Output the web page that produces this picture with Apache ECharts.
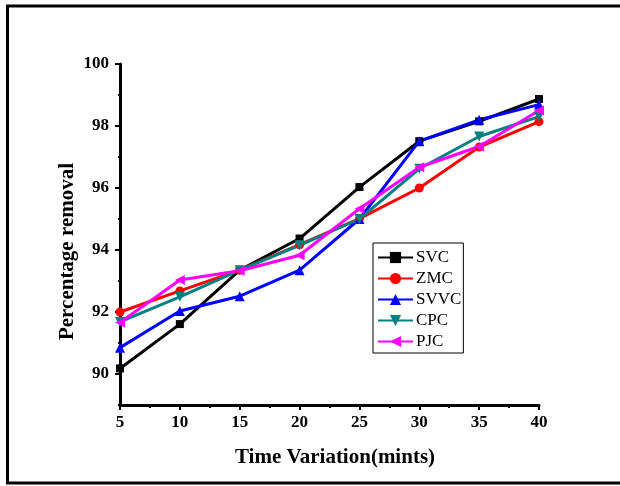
<!DOCTYPE html>
<html>
<head>
<meta charset="utf-8">
<script src="https://cdn.jsdelivr.net/npm/echarts@6/dist/echarts.min.js"></script>
<style>
html,body{margin:0;padding:0;background:#fff;}
#chart{width:620px;height:486px;}
</style>
</head>
<body>
<div id="chart"></div>
<script>
const times = [5, 10, 15, 20, 25, 30, 35, 40];
const SVC  = [90.18, 91.61, 93.35, 94.37, 96.03, 97.51, 98.15, 98.87];
const ZMC  = [92.00, 92.68, 93.35, 94.17, 95.01, 96.00, 97.32, 98.14];
const SVVC = [90.85, 92.03, 92.51, 93.35, 95.00, 97.51, 98.20, 98.69];
const CPC  = [91.68, 92.49, 93.35, 94.15, 95.00, 96.62, 97.66, 98.30];
const PJC  = [91.66, 93.03, 93.33, 93.83, 95.33, 96.67, 97.34, 98.50];
const seriesNames = ['SVC', 'ZMC', 'SVVC', 'CPC', 'PJC'];
const yTickLabels = [90, 92, 94, 96, 98, 100];

const font = 'Liberation Serif';
const pair = arr => times.map((t, i) => [t, arr[i]]);

function mk(name, data, color, symbol, rot, size) {
  return {
    name: name, type: 'line', data: pair(data),
    xAxisIndex: 0, yAxisIndex: 0,
    symbol: symbol, symbolRotate: rot, symbolSize: size,
    lineStyle: {color: color, width: 3},
    itemStyle: {color: color},
    emphasis: {disabled: true},
    animation: false
  };
}

const chart = echarts.init(document.getElementById('chart'), null, {renderer: 'canvas'});
chart.setOption({
  backgroundColor: '#fff',
  animation: false,
  grid: [
    {left: 120, right: 81, top: 64, bottom: 81},
    {left: 120, right: 81, top: 64, bottom: 112}
  ],
  xAxis: [
    {
      gridIndex: 0, type: 'value', min: 5, max: 40, interval: 5,
      name: 'Time Variation(mints)', nameLocation: 'middle', nameGap: 42,
      nameTextStyle: {fontFamily: font, fontWeight: 'bold', fontSize: 21, color: '#000', padding: [0, 0, 0, 11]},
      axisLine: {lineStyle: {color: '#000', width: 3}},
      axisTick: {show: true, inside: false, length: 5, lineStyle: {color: '#000', width: 2}},
      minorTick: {show: true, splitNumber: 2, length: 3, lineStyle: {color: '#000', width: 2}},
      axisLabel: {fontFamily: font, fontWeight: 'bold', fontSize: 17, color: '#000', margin: 9},
      splitLine: {show: false}
    },
    {gridIndex: 1, type: 'value', min: 5, max: 40, show: false}
  ],
  yAxis: [
    {
      gridIndex: 0, type: 'value', min: 89, max: 100, interval: 1,
      name: 'Percentage removal', nameLocation: 'middle', nameGap: 42,
      nameTextStyle: {fontFamily: font, fontWeight: 'bold', fontSize: 21, color: '#000', padding: [0, 34, 0, 0]},
      nameRotate: 90,
      axisLine: {lineStyle: {color: '#000', width: 3}},
      axisTick: {show: true, inside: false, length: 2, lineStyle: {color: '#000', width: 2}},
      axisLabel: {show: false},
      splitLine: {show: false}
    },
    {
      gridIndex: 1, type: 'value', min: yTickLabels[0], max: yTickLabels[yTickLabels.length - 1], interval: 2,
      axisLine: {show: false},
      axisTick: {show: true, inside: false, length: 5, lineStyle: {color: '#000', width: 2}},
      axisLabel: {fontFamily: font, fontWeight: 'bold', fontSize: 17, color: '#000', margin: 11},
      splitLine: {show: false}
    }
  ],
  legend: {
    data: seriesNames,
    orient: 'vertical',
    left: 373, top: 243,
    itemWidth: 35, itemHeight: 14, itemGap: 4,
    padding: [6, 2, 3, 4],
    borderColor: '#000', borderWidth: 1,
    textStyle: {fontFamily: font, fontSize: 17, lineHeight: 17, color: '#000', padding: [0, 0, 0, -2]},
    selectedMode: false
  },
  graphic: [{
    type: 'polyline', silent: true,
    shape: {points: [[630, 6], [7.5, 6], [7.5, 483], [630, 483]]},
    style: {stroke: '#000', lineWidth: 3, fill: null}
  }],
  series: [
    mk('SVC', SVC, '#000000', 'rect', 0, 8),
    mk('ZMC', ZMC, '#ff0000', 'circle', 0, 9),
    mk('SVVC', SVVC, '#0000ff', 'triangle', 0, 10),
    mk('CPC', CPC, '#008080', 'triangle', 180, 10),
    mk('PJC', PJC, '#ff00ff', 'triangle', 90, 10)
  ]
});
</script>
</body>
</html>
